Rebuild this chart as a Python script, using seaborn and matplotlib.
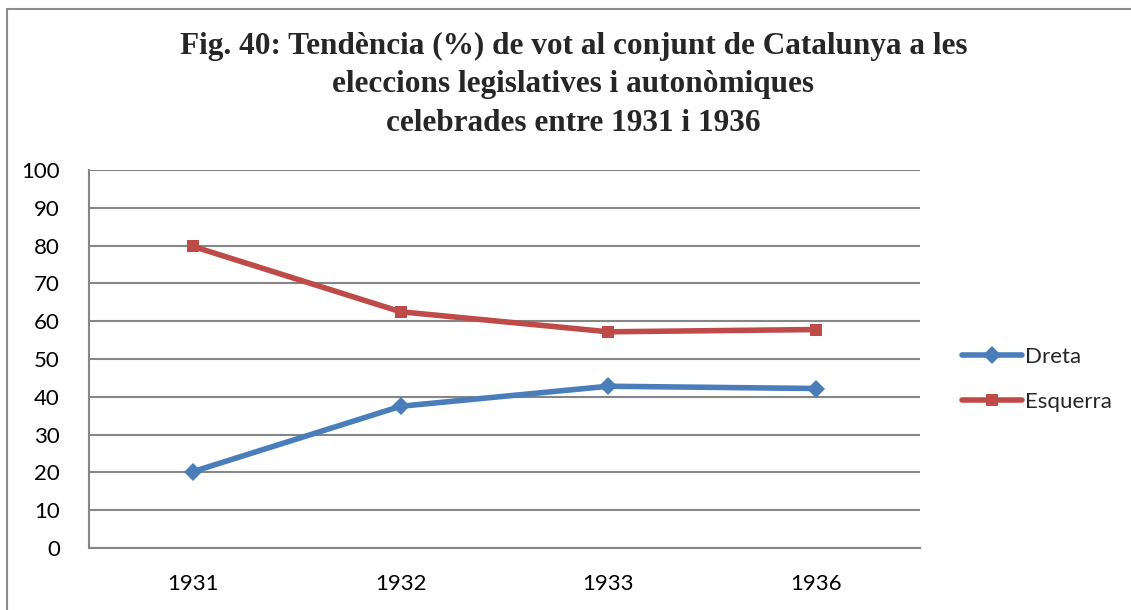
import matplotlib.pyplot as plt
import matplotlib.patches as patches
import pandas as pd
import seaborn as sns

# Data
anys = ['1931', '1932', '1933', '1936']
dreta = [20.2, 37.5, 42.8, 42.2]
esquerra = [79.8, 62.5, 57.2, 57.8]

df = pd.DataFrame({
    'Any': anys * 2,
    'Vot': dreta + esquerra,
    'Partit': ['Dreta'] * len(anys) + ['Esquerra'] * len(anys),
})

sns.set_style('white')
plt.rcParams['font.family'] = ['Lato', 'DejaVu Sans']

fig = plt.figure(figsize=(11.31, 6.10), dpi=100)
ax = fig.add_axes([0.0787, 0.1016, 0.7347, 0.6197])

# outer frame like the Excel chart area
frame = patches.Rectangle((7 / 1131, -0.1), 1.2, 1.1 - 9 / 610, transform=fig.transFigure,
                          fill=False, edgecolor='#8c8c8c', linewidth=1.5, clip_on=False)
fig.patches.append(frame)

sns.lineplot(data=df, x='Any', y='Vot', hue='Partit', style='Partit',
             palette={'Dreta': '#4A7EBB', 'Esquerra': '#BE4B48'},
             markers={'Dreta': 'D', 'Esquerra': 's'}, dashes=False,
             linewidth=4, markersize=9, markeredgewidth=0, ax=ax)

ax.set_xlim(-0.5, 3.5)
ax.set_ylim(0, 100)
ax.set_yticks(range(0, 101, 10))
ax.grid(axis='y', color='#868686', linewidth=1.5)
ax.set_axisbelow(True)
for s in ['top', 'right']:
    ax.spines[s].set_visible(False)
for s in ['left', 'bottom']:
    ax.spines[s].set_color('#868686')
    ax.spines[s].set_linewidth(1.5)
ax.tick_params(axis='both', length=0, labelsize=16, colors='black')
ax.tick_params(axis='y', pad=21)
ax.tick_params(axis='x', pad=19)
ax.set_xlabel('')
ax.set_ylabel('')

ax.legend(loc='center left', bbox_to_anchor=(1.027, 0.446), frameon=False,
          fontsize=16, handlelength=2.7, labelspacing=1.15, handletextpad=0.1)

fig.text(0.507, 0.861,
         'Fig. 40: Tendència (%) de vot al conjunt de Catalunya a les\n'
         'eleccions legislatives i autonòmiques\n'
         'celebrades entre 1931 i 1936',
         ha='center', va='center', fontsize=22.5, fontweight='bold',
         family=['Liberation Serif', 'DejaVu Serif'], linespacing=1.42)

fig.savefig('out.png', dpi=100)
